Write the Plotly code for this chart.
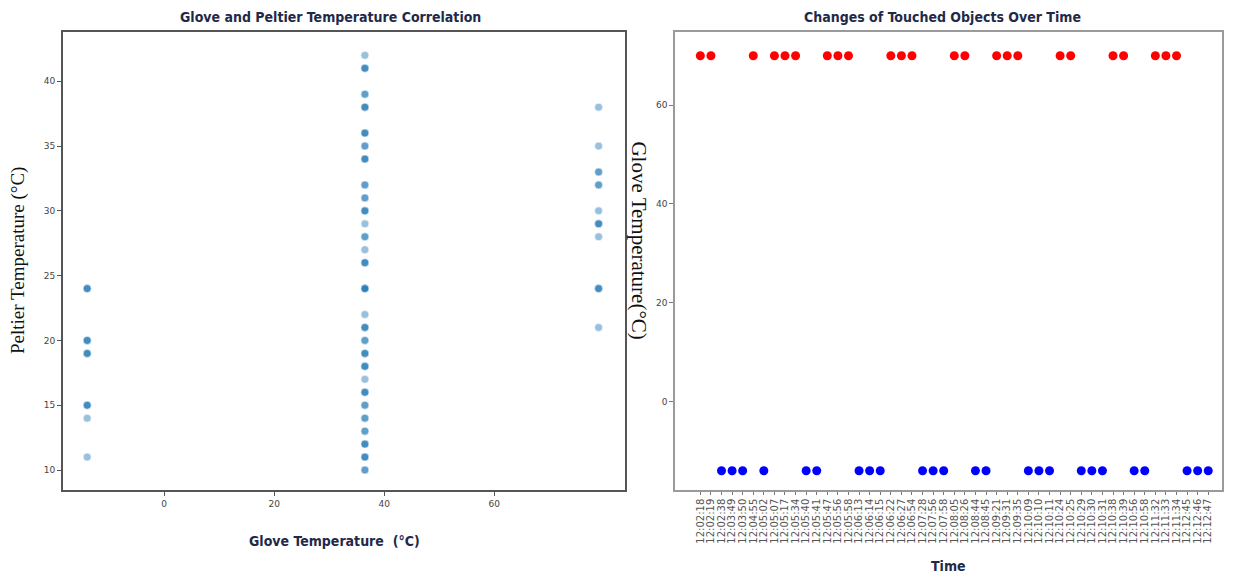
import plotly.graph_objects as go
from plotly.subplots import make_subplots

# ---- Left panel data: glove vs peltier temperature (repeats = overlapping observations)
glove_temp = ([-14] * 3 + [-14] * 3 + [-14] * 3 + [-14] * 3 + [-14] + [-14]
              + [36.5] * 1 + [36.5] * 3 + [36.5] * 2 + [36.5] * 3 + [36.5] * 3 + [36.5] * 2 + [36.5] * 3
              + [36.5] * 2 + [36.5] * 2 + [36.5] * 3 + [36.5] * 1 + [36.5] * 2 + [36.5] * 1 + [36.5] * 3
              + [36.5] * 4 + [36.5] * 1 + [36.5] * 3 + [36.5] * 2 + [36.5] * 3 + [36.5] * 3 + [36.5] * 1
              + [36.5] * 3 + [36.5] * 2 + [36.5] * 2 + [36.5] * 2 + [36.5] * 3 + [36.5] * 3 + [36.5] * 2
              + [79] + [79] + [79] * 2 + [79] * 2 + [79] + [79] * 3 + [79] + [79] * 3 + [79])
peltier_temp = ([24] * 3 + [20] * 3 + [19] * 3 + [15] * 3 + [14] + [11]
                + [42] * 1 + [41] * 3 + [39] * 2 + [38] * 3 + [36] * 3 + [35] * 2 + [34] * 3
                + [32] * 2 + [31] * 2 + [30] * 3 + [29] * 1 + [28] * 2 + [27] * 1 + [26] * 3
                + [24] * 4 + [22] * 1 + [21] * 3 + [20] * 2 + [19] * 3 + [18] * 3 + [17] * 1
                + [16] * 3 + [15] * 2 + [14] * 2 + [13] * 2 + [12] * 3 + [11] * 3 + [10] * 2
                + [38] + [35] + [33] * 2 + [32] * 2 + [30] + [29] * 3 + [28] + [24] * 3 + [21])

# ---- Right panel data: touched objects over time
times = ["12:02:18", "12:02:19", "12:02:38", "12:03:49", "12:03:50", "12:04:55", "12:05:02",
         "12:05:07", "12:05:17", "12:05:34", "12:05:40", "12:05:41", "12:05:47", "12:05:56",
         "12:05:58", "12:06:13", "12:06:14", "12:06:15", "12:06:22", "12:06:27", "12:06:54",
         "12:07:28", "12:07:56", "12:07:58", "12:08:05", "12:08:26", "12:08:44", "12:08:45",
         "12:09:21", "12:09:31", "12:09:35", "12:10:09", "12:10:10", "12:10:11", "12:10:24",
         "12:10:25", "12:10:29", "12:10:30", "12:10:31", "12:10:38", "12:10:39", "12:10:56",
         "12:10:58", "12:11:32", "12:11:33", "12:11:34", "12:12:45", "12:12:46", "12:12:47"]
glove_over_time = [70, 70, -14, -14, -14, 70, -14, 70, 70, 70, -14, -14, 70, 70, 70, -14, -14, -14,
                   70, 70, 70, -14, -14, -14, 70, 70, -14, -14, 70, 70, 70, -14, -14, -14, 70, 70,
                   -14, -14, -14, 70, 70, -14, -14, 70, 70, 70, -14, -14, -14]
point_colors = ["red" if v > 0 else "blue" for v in glove_over_time]

COND = "DejaVu Sans Condensed, Liberation Sans Narrow, Arial Narrow, Roboto, sans-serif"
TITLE_FONT = dict(family=COND, size=14, color="#1f2a4a", weight="bold")
SERIF_FONT = dict(family="Liberation Serif, Times New Roman, serif", size=19, color="#111111")
TICK_FONT = dict(family="DejaVu Sans, sans-serif", size=9, color="#444444")

D1 = [0, 0.4849]
D2 = [0.528, 1]

fig = make_subplots(rows=1, cols=2)

fig.add_trace(go.Scatter(
    x=glove_temp, y=peltier_temp, mode="markers",
    marker=dict(color="#1f77b4", size=8, opacity=0.45, line=dict(width=0.6, color="white")),
    showlegend=False), row=1, col=1)

fig.add_trace(go.Scatter(
    x=times, y=glove_over_time, mode="markers",
    marker=dict(color=point_colors, size=9),
    showlegend=False), row=1, col=2)

fig.update_layout(
    width=1227, height=569,
    margin=dict(l=55, r=13, t=24, b=87),
    paper_bgcolor="white", plot_bgcolor="white",
)

fig.update_xaxes(domain=D1, range=[-18.4, 83.8], tickvals=[0, 20, 40, 60],
                 showgrid=False, zeroline=False, showline=True, mirror=True,
                 linecolor="#555555", linewidth=2, ticks="outside", ticklen=4, tickcolor="#555555",
                 tickfont=TICK_FONT, automargin=False, row=1, col=1)
fig.update_yaxes(range=[8.46, 43.8], tickvals=[10, 15, 20, 25, 30, 35, 40],
                 showgrid=False, zeroline=False, showline=True, mirror=True,
                 linecolor="#555555", linewidth=2, ticks="outside", ticklen=4, tickcolor="#555555",
                 tickfont=TICK_FONT, automargin=False, row=1, col=1)

fig.update_xaxes(domain=D2, range=[-2.4, 49.3], type="category",
                 tickmode="array", tickvals=times, ticktext=times,
                 showgrid=False, zeroline=False, showline=True, mirror=True,
                 linecolor="#9a9a9a", linewidth=1.5, ticks="outside", ticklen=3, tickcolor="#777777",
                 tickangle=-90, tickfont=dict(family="DejaVu Sans, sans-serif", size=10, color="#555555"),
                 automargin=False, row=1, col=2)
fig.update_yaxes(range=[-17.9, 74.8], tickvals=[0, 20, 40, 60],
                 showgrid=False, zeroline=False, showline=True, mirror=True,
                 linecolor="#9a9a9a", linewidth=1.5, ticks="outside", ticklen=4, tickcolor="#777777",
                 tickfont=TICK_FONT, automargin=False, row=1, col=2)

fig.add_annotation(text="Glove and Peltier Temperature Correlation", xref="paper", yref="paper",
                   x=0.5 * (D1[0] + D1[1]) - 0.012, y=1, xanchor="center", yanchor="bottom", yshift=5,
                   showarrow=False, font=TITLE_FONT)
fig.add_annotation(text="Changes of Touched Objects Over Time", xref="paper", yref="paper",
                   x=0.5 * (D2[0] + D2[1]) - 0.005, y=1, xanchor="center", yanchor="bottom", yshift=5,
                   showarrow=False, font=TITLE_FONT)
fig.add_annotation(text="Glove Temperature  (°C)", xref="paper", yref="paper",
                   x=0.5 * (D1[0] + D1[1]) - 0.008, y=0, xanchor="center", yanchor="middle", yshift=-51,
                   showarrow=False, font=TITLE_FONT)
fig.add_annotation(text="Time", xref="paper", yref="paper",
                   x=0.5 * (D2[0] + D2[1]), y=0, xanchor="center", yanchor="middle", yshift=-76,
                   showarrow=False, font=TITLE_FONT)
fig.add_annotation(text="Peltier Temperature (°C)", xref="paper", yref="paper",
                   x=0, y=0.5, xanchor="right", yanchor="middle", xshift=-32, textangle=-90,
                   showarrow=False, font=SERIF_FONT)
fig.add_annotation(text="Glove Temperature(°C)", xref="paper", yref="paper",
                   x=D2[0], y=0.545, xanchor="right", yanchor="middle", xshift=-22, textangle=90,
                   showarrow=False, font=dict(SERIF_FONT, size=21))

fig.write_html("out.html")
